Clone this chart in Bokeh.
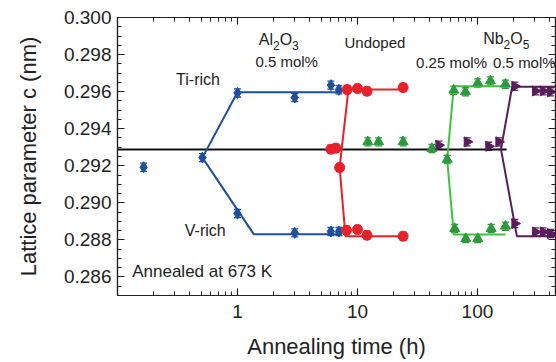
from bokeh.plotting import figure
from bokeh.models import (FixedTicker, LogAxis, LinearAxis, NumeralTickFormatter,
                          ColumnDataSource, Whisker, TeeHead, Label, Range1d)
from bokeh.embed import file_html
from bokeh.resources import INLINE
import numpy as np

# ---------------- data ----------------
# Al2O3 0.5 mol% (blue diamonds)
al_t = [0.165, 0.51, 1.0, 1.0, 3.0, 3.0, 6.0, 6.0, 7.0, 7.0]
al_c = [0.29192, 0.29244, 0.29593, 0.28942, 0.29568, 0.28838, 0.29635, 0.28845, 0.29610, 0.28845]
# Undoped (red circles)
un_t = [6.0, 6.6, 7.1, 8.2, 8.1, 10.0, 10.0, 12.0, 12.0, 24.0, 24.0]
un_c = [0.29289, 0.29295, 0.29191, 0.29611, 0.28852, 0.29617, 0.28856, 0.29602, 0.28825, 0.29622, 0.28820]
# Nb2O5 0.25 mol% (green triangles)
nb25_t = [12.2, 15.0, 24.0, 41.7, 55.9, 63.5, 64.6, 79.4, 80.0, 100.6, 100.6, 128.0, 130.0, 171.0, 171.0]
nb25_c = [0.29329, 0.29329, 0.29329, 0.29293, 0.29234, 0.29608, 0.28861, 0.29599, 0.28807,
          0.29647, 0.28807, 0.29658, 0.28861, 0.29640, 0.28874]
# Nb2O5 0.5 mol% (purple right triangles)
nb50_t = [47.6, 82.0, 124.0, 150.5, 204.6, 204.6, 304.0, 304.0, 353.0, 353.0, 406.0, 406.0]
nb50_c = [0.29311, 0.29329, 0.29305, 0.29329, 0.29629, 0.28888, 0.29604, 0.28843,
          0.29604, 0.28843, 0.29599, 0.28834]
err = 0.00022

# guide lines
al_up_t, al_up_c = [0.51, 1.0, 7.4], [0.29244, 0.29597, 0.29597]
al_lo_t, al_lo_c = [0.51, 1.37, 7.4], [0.29244, 0.28830, 0.28830]
un_up_t, un_up_c = [7.1, 8.4, 24.0], [0.29191, 0.29611, 0.29611]
un_lo_t, un_lo_c = [7.1, 7.94, 24.0], [0.29191, 0.28820, 0.28820]
nb25_up_t, nb25_up_c = [55.9, 63.5, 181.0], [0.29234, 0.29629, 0.29629]
nb25_lo_t, nb25_lo_c = [55.9, 63.5, 171.0], [0.29234, 0.28829, 0.28829]
nb50_up_t, nb50_up_c = [157.0, 194.5, 447.0], [0.29290, 0.29626, 0.29626]
nb50_lo_t, nb50_lo_c = [157.0, 213.0, 447.0], [0.29290, 0.28820, 0.28820]
ref_t, ref_c = [0.1, 175.0], [0.29288, 0.29288]

x_major = [1, 10, 100]
x_minor = [0.2, 0.3, 0.4, 0.5, 0.6, 0.7, 0.8, 0.9, 2, 3, 4, 5, 6, 7, 8, 9,
           20, 30, 40, 50, 60, 70, 80, 90, 200, 300, 400]
y_major = [0.286, 0.288, 0.290, 0.292, 0.294, 0.296, 0.298, 0.300]
y_minor = [round(0.285 + 0.0005 * i, 4) for i in range(31)]

BLUE = "#1d4f9e"
RED = "#e8202a"
GREEN_M = "#2a9a3a"
GREEN_L = "#3fc23f"
PURPLE = "#5a1c5c"
FONT = "Liberation Sans"

p = figure(width=556, height=362, x_axis_type="log",
           x_range=Range1d(0.1, 447), y_range=Range1d(0.285, 0.300),
           output_backend="svg", toolbar_location=None,
           min_border_left=117, min_border_right=1, min_border_top=17, min_border_bottom=67)
p.grid.visible = False
p.outline_line_color = "#222"
p.outline_line_width = 1.2
p.background_fill_color = "white"
p.border_fill_color = "white"


def style(ax, labels=True):
    ax.major_tick_in = 7
    ax.major_tick_out = 0
    ax.minor_tick_in = 4
    ax.minor_tick_out = 0
    ax.axis_line_color = "#222"
    ax.major_tick_line_color = "#222"
    ax.minor_tick_line_color = "#222"
    ax.axis_line_width = 1.2
    ax.major_tick_line_width = 1.2
    ax.minor_tick_line_width = 1
    if labels:
        ax.major_label_text_font = FONT
        ax.major_label_text_font_size = "19px"
        ax.major_label_text_color = "#222"
        ax.axis_label_text_font = FONT
        ax.axis_label_text_font_size = "22px"
        ax.axis_label_text_font_style = "normal"
        ax.axis_label_text_color = "#222"
    else:
        ax.major_label_text_font_size = "1px"
        ax.major_label_text_alpha = 0
        ax.major_label_standoff = 0


xa = p.xaxis[0]
xa.ticker = FixedTicker(ticks=x_major, minor_ticks=x_minor)
xa.formatter = NumeralTickFormatter(format="0")
xa.axis_label = "Annealing time (h)"
style(xa)
xa.major_label_standoff = 9
xa.axis_label_standoff = 13

ya = p.yaxis[0]
ya.ticker = FixedTicker(ticks=y_major, minor_ticks=y_minor)
ya.formatter = NumeralTickFormatter(format="0.000")
ya.axis_label = "Lattice parameter c (nm)"
style(ya)
ya.major_label_standoff = 6
ya.axis_label_standoff = 20

top = LogAxis(ticker=FixedTicker(ticks=x_major, minor_ticks=x_minor),
              formatter=NumeralTickFormatter(format="0"))
style(top, labels=False)
p.add_layout(top, "above")
right = LinearAxis(ticker=FixedTicker(ticks=y_major, minor_ticks=y_minor),
                   formatter=NumeralTickFormatter(format="0.000"))
style(right, labels=False)
p.add_layout(right, "right")

# reference line
p.line(ref_t, ref_c, line_color="#111", line_width=2)

# guide lines
for xs, ys, col in [(al_up_t, al_up_c, BLUE), (al_lo_t, al_lo_c, BLUE),
                    (un_up_t, un_up_c, RED), (un_lo_t, un_lo_c, RED),
                    (nb25_up_t, nb25_up_c, GREEN_L), (nb25_lo_t, nb25_lo_c, GREEN_L),
                    (nb50_up_t, nb50_up_c, PURPLE), (nb50_lo_t, nb50_lo_c, PURPLE)]:
    p.line(xs, ys, line_color=col, line_width=2)


def series(ts, cs, col, marker, size, angle=0.0):
    src = ColumnDataSource(dict(t=ts, c=cs,
                                up=[v + err for v in cs], lo=[v - err for v in cs]))
    w = Whisker(base="t", upper="up", lower="lo", source=src, line_color=col, line_width=1.3,
                upper_head=TeeHead(size=7, line_color=col, line_width=1.3),
                lower_head=TeeHead(size=7, line_color=col, line_width=1.3))
    p.add_layout(w)
    p.scatter("t", "c", source=src, marker=marker, size=size, angle=angle,
              fill_color=col, line_color=col)


series(al_t, al_c, BLUE, "diamond", 11)
series(un_t, un_c, RED, "circle", 10)
series(nb25_t, nb25_c, GREEN_M, "triangle", 10)
series(nb50_t, nb50_c, PURPLE, "triangle", 10, angle=-np.pi / 2)


def lab(x, y, text, size, xo=0, yo=0):
    p.add_layout(Label(x=x, y=y, text=text, x_offset=xo, y_offset=yo,
                       text_font=FONT, text_font_size=size, text_color="#222",
                       text_align="left", text_baseline="middle"))


lab(0.308, 0.29667, "Ti-rich", "16px")
lab(0.364, 0.28852, "V-rich", "16px")
lab(0.1326, 0.28627, "Annealed at 673 K", "17px")
lab(7.79, 0.29863, "Undoped", "15px")
lab(1.41, 0.29764, "0.5 mol%", "15px")
lab(30.8, 0.29757, "0.25 mol%", "15px")
lab(135.0, 0.29757, "0.5 mol%", "15px")
# Al2O3
lab(1.505, 0.29883, "Al", "16px")
lab(1.505, 0.29883, "2", "12px", xo=14.2, yo=-6)
lab(1.505, 0.29883, "O", "16px", xo=20.9)
lab(1.505, 0.29883, "3", "12px", xo=33.3, yo=-6)
# Nb2O5
lab(111.6, 0.29888, "Nb", "16px")
lab(111.6, 0.29888, "2", "12px", xo=20.4, yo=-6)
lab(111.6, 0.29888, "O", "16px", xo=27.1)
lab(111.6, 0.29888, "5", "12px", xo=39.5, yo=-6)

open("out.html", "w").write(file_html(p, INLINE))
